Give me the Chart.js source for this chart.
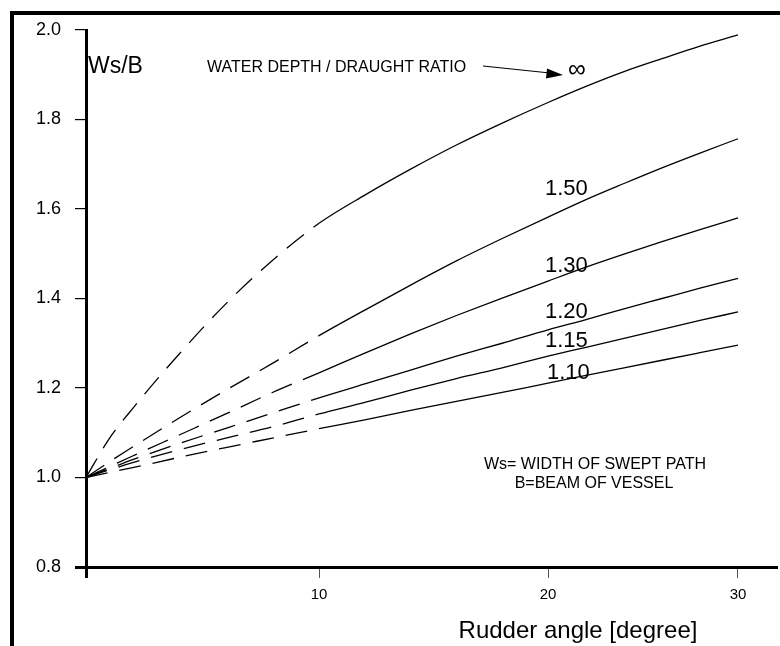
<!DOCTYPE html>
<html>
<head>
<meta charset="utf-8">
<script src="https://cdn.jsdelivr.net/npm/chart.js@4.4.1/dist/chart.umd.min.js"></script>
<style>
  html, body { margin: 0; padding: 0; background: #fff; }
  #wrap { width: 780px; height: 646px; position: relative; }
</style>
</head>
<body>
<div id="wrap"><canvas id="swept-path"></canvas></div>
<script>
// rudder angle (degree)
const angles = [0, 1, 2, 4, 6, 8, 10, 12, 14, 16, 18, 20, 22, 24, 26, 28, 30];

// Ws/B for each water depth / draught ratio
const ratioInf = [1.0, 1.087, 1.154, 1.276, 1.388, 1.485, 1.568, 1.631, 1.689, 1.743, 1.792, 1.838, 1.874, 1.907, 1.936, 1.964, 1.989];
const ratio150 = [1.0, 1.035, 1.068, 1.133, 1.195, 1.255, 1.317, 1.374, 1.430, 1.484, 1.534, 1.582, 1.621, 1.657, 1.692, 1.725, 1.757];
const ratio130 = [1.0, 1.024, 1.048, 1.095, 1.142, 1.190, 1.234, 1.278, 1.321, 1.362, 1.401, 1.439, 1.470, 1.499, 1.527, 1.554, 1.580];
const ratio120 = [1.0, 1.020, 1.040, 1.076, 1.110, 1.144, 1.178, 1.209, 1.240, 1.271, 1.300, 1.330, 1.353, 1.377, 1.400, 1.423, 1.445];
const ratio115 = [1.0, 1.017, 1.033, 1.062, 1.088, 1.113, 1.142, 1.168, 1.195, 1.221, 1.245, 1.271, 1.291, 1.311, 1.331, 1.351, 1.370];
const ratio110 = [1.0, 1.011, 1.022, 1.045, 1.067, 1.088, 1.109, 1.129, 1.150, 1.170, 1.190, 1.211, 1.228, 1.245, 1.262, 1.279, 1.296];

const seriesNames = ["\u221E", "1.50", "1.30", "1.20", "1.15", "1.10"];
const seriesValues = [ratioInf, ratio150, ratio130, ratio120, ratio115, ratio110];

const xTicks = [0, 10, 20, 30];
const yTicks = [0.8, 1.0, 1.2, 1.4, 1.6, 1.8, 2.0];
const dashedUpTo = 10; // measured range ends here, dashed below

// the original drawing is not evenly spaced along x, so the scale is piecewise linear
const warpValues = [0, 10, 20, 30, 32];
const warpDecimals = [0, 0.3377, 0.6696, 0.9449, 1];

function warp(v, from, to) {
  for (let i = 1; i < from.length; i++) {
    if (v <= from[i] || i === from.length - 1) {
      const t = (v - from[i - 1]) / (from[i] - from[i - 1]);
      return to[i - 1] + t * (to[i] - to[i - 1]);
    }
  }
  return to[0];
}

class WarpScale extends Chart.LinearScale {
  getPixelForValue(value) {
    return this.getPixelForDecimal(warp(value, warpValues, warpDecimals));
  }
  getValueForPixel(pixel) {
    return warp(this.getDecimalForPixel(pixel), warpDecimals, warpValues);
  }
}
WarpScale.id = "warp";
WarpScale.defaults = Chart.LinearScale.defaults;
Chart.register(WarpScale);

const FONT = "'Liberation Sans', Arial, Helvetica, sans-serif";
Chart.defaults.font.family = FONT;
Chart.defaults.color = "#000";

const annotate = {
  id: "annotate",
  beforeDraw(chart) {
    const c = chart.ctx;
    c.save();
    c.fillStyle = "#fff";
    c.fillRect(0, 0, chart.width, chart.height);
    c.restore();
  },
  afterDatasetsDraw(chart) {
    const c = chart.ctx;
    c.save();
    // frame
    c.strokeStyle = "#000";
    c.lineWidth = 4;
    c.beginPath();
    c.moveTo(12, 646);
    c.lineTo(12, 13);
    c.lineTo(780, 13);
    c.stroke();

    c.fillStyle = "#000";
    c.textBaseline = "alphabetic";
    c.textAlign = "left";
    c.font = "23px " + FONT;
    c.fillText("Ws/B", 88, 73);

    c.font = "16px " + FONT;
    c.fillText("WATER DEPTH / DRAUGHT RATIO", 207, 72);

    // arrow to the infinity curve
    c.lineWidth = 1.2;
    c.beginPath();
    c.moveTo(483, 66);
    c.lineTo(550, 73);
    c.stroke();
    c.beginPath();
    c.moveTo(563, 75);
    c.lineTo(547, 68.5);
    c.lineTo(546, 78.5);
    c.closePath();
    c.fill();

    // curve labels
    const labelPos = [[568, 77], [545, 195], [545, 272], [545, 318], [545, 347], [547, 379]];
    seriesNames.forEach((name, i) => {
      c.font = (i === 0 ? "25px " : "22px ") + FONT;
      c.fillText(name, labelPos[i][0], labelPos[i][1]);
    });

    c.textAlign = "center";
    c.font = "16px " + FONT;
    c.fillText("Ws= WIDTH OF SWEPT PATH", 595, 469);
    c.fillText("B=BEAM OF VESSEL", 594, 488);

    c.font = "24px " + FONT;
    c.fillText("Rudder angle [degree]", 578, 638);
    c.restore();
  }
};

new Chart(document.getElementById("swept-path"), {
  type: "line",
  data: {
    datasets: seriesNames.map((name, i) => ({
      label: name,
      data: angles.map((a, j) => ({ x: a, y: seriesValues[i][j] })),
      borderColor: "#000",
      borderWidth: 1.3,
      pointRadius: 0,
      fill: false,
      cubicInterpolationMode: "monotone",
      segment: {
        borderDash: (ctx) => (ctx.p1.parsed.x <= dashedUpTo ? [22, 12] : undefined),
      },
    })),
  },
  options: {
    responsive: true,
    maintainAspectRatio: false,
    animation: false,
    layout: { padding: { top: 30, right: 4, left: 0, bottom: 0 } },
    plugins: {
      legend: { display: false },
      tooltip: { enabled: false },
    },
    scales: {
      x: {
        type: "warp",
        min: 0,
        max: 32,
        afterBuildTicks: (scale) => {
          scale.ticks = xTicks.map((v) => ({ value: v }));
        },
        afterFit: (scale) => {
          scale.height = 79;
        },
        border: { display: true, color: "#000", width: 3 },
        grid: {
          drawOnChartArea: false,
          drawTicks: true,
          tickLength: 11,
          color: (ctx) => (ctx.tick && ctx.tick.value === 0 ? "#000" : "#555"),
          lineWidth: (ctx) => (ctx.tick && ctx.tick.value === 0 ? 3 : 1),
        },
        ticks: {
          padding: 8,
          maxRotation: 0,
          autoSkip: false,
          font: { size: 15 },
          callback: (v) => (v === 0 ? "" : String(v)),
        },
      },
      y: {
        type: "linear",
        min: 0.8,
        max: 2.0,
        afterBuildTicks: (scale) => {
          scale.ticks = yTicks.map((v) => ({ value: v }));
        },
        afterFit: (scale) => {
          scale.width = 86;
        },
        border: { display: true, color: "#000", width: 3 },
        grid: {
          drawOnChartArea: false,
          drawTicks: true,
          tickLength: 11,
          color: "#000",
          lineWidth: (ctx) => (ctx.tick && ctx.tick.value === 0.8 ? 3 : 1.2),
        },
        ticks: {
          padding: 14,
          font: { size: 18 },
          callback: (v) => Number(v).toFixed(1),
        },
      },
    },
  },
  plugins: [annotate],
});
</script>
</body>
</html>
